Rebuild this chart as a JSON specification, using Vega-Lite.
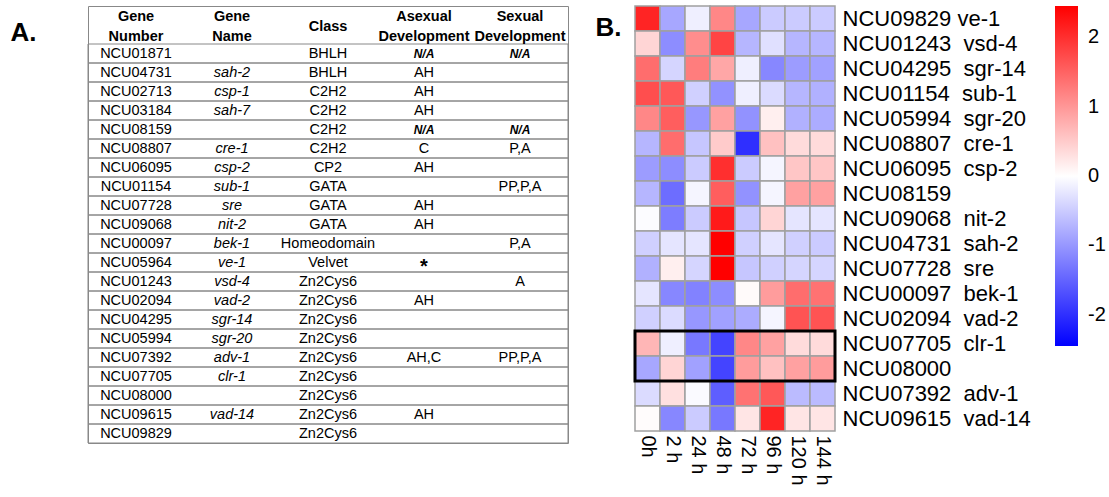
{
  "$schema": "https://vega.github.io/schema/vega-lite/v6.json",
  "padding": {"left": 10, "top": 5, "right": 0, "bottom": 0},
  "spacing": 26,
  "config": {
    "view": {"stroke": null},
    "font": "Liberation Sans",
    "text": {"font": "Liberation Sans", "color": "black"},
    "title": {"font": "Liberation Sans", "color": "black"},
    "axis": {"labelFont": "Liberation Sans", "labelColor": "black"},
    "legend": {"labelFont": "Liberation Sans", "labelColor": "black"}
  },
  "datasets": {
    "table": [
      {"num": "NCU01871", "name": "", "cls": "BHLH", "asex": "N/A", "sex": "N/A"},
      {"num": "NCU04731", "name": "sah-2", "cls": "BHLH", "asex": "AH", "sex": ""},
      {"num": "NCU02713", "name": "csp-1", "cls": "C2H2", "asex": "AH", "sex": ""},
      {"num": "NCU03184", "name": "sah-7", "cls": "C2H2", "asex": "AH", "sex": ""},
      {"num": "NCU08159", "name": "", "cls": "C2H2", "asex": "N/A", "sex": "N/A"},
      {"num": "NCU08807", "name": "cre-1", "cls": "C2H2", "asex": "C", "sex": "P,A"},
      {"num": "NCU06095", "name": "csp-2", "cls": "CP2", "asex": "AH", "sex": ""},
      {"num": "NCU01154", "name": "sub-1", "cls": "GATA", "asex": "", "sex": "PP,P,A"},
      {"num": "NCU07728", "name": "sre", "cls": "GATA", "asex": "AH", "sex": ""},
      {"num": "NCU09068", "name": "nit-2", "cls": "GATA", "asex": "AH", "sex": ""},
      {"num": "NCU00097", "name": "bek-1", "cls": "Homeodomain", "asex": "", "sex": "P,A"},
      {"num": "NCU05964", "name": "ve-1", "cls": "Velvet", "asex": "*", "sex": ""},
      {"num": "NCU01243", "name": "vsd-4", "cls": "Zn2Cys6", "asex": "", "sex": "A"},
      {"num": "NCU02094", "name": "vad-2", "cls": "Zn2Cys6", "asex": "AH", "sex": ""},
      {"num": "NCU04295", "name": "sgr-14", "cls": "Zn2Cys6", "asex": "", "sex": ""},
      {"num": "NCU05994", "name": "sgr-20", "cls": "Zn2Cys6", "asex": "", "sex": ""},
      {"num": "NCU07392", "name": "adv-1", "cls": "Zn2Cys6", "asex": "AH,C", "sex": "PP,P,A"},
      {"num": "NCU07705", "name": "clr-1", "cls": "Zn2Cys6", "asex": "", "sex": ""},
      {"num": "NCU08000", "name": "", "cls": "Zn2Cys6", "asex": "", "sex": ""},
      {"num": "NCU09615", "name": "vad-14", "cls": "Zn2Cys6", "asex": "AH", "sex": ""},
      {"num": "NCU09829", "name": "", "cls": "Zn2Cys6", "asex": "", "sex": ""}
    ],
    "header": [
      {"num": "h1", "key": "num", "t": "Gene\nNumber"},
      {"num": "h1", "key": "name", "t": "Gene\nName"},
      {"num": "h1", "key": "asex", "t": "Asexual\nDevelopment"},
      {"num": "h1", "key": "sex", "t": "Sexual\nDevelopment"}
    ],
    "heat": [
      {"g": "NCU09829 ve-1", "0h": 2.1, "2 h": -0.85, "24 h": -0.15, "48 h": 1.15, "72 h": -0.85, "96 h": -0.5, "120 h": -0.5, "144 h": -0.5},
      {"g": "NCU01243\u00a0 vsd-4", "0h": 0.4, "2 h": -1.1, "24 h": 1.1, "48 h": 1.8, "72 h": -0.7, "96 h": -0.3, "120 h": -0.7, "144 h": -0.7},
      {"g": "NCU04295\u00a0 sgr-14", "0h": 1.4, "2 h": -0.4, "24 h": 1.25, "48 h": 0.85, "72 h": -0.15, "96 h": -1.15, "120 h": -0.95, "144 h": -0.9},
      {"g": "NCU01154\u00a0 sub-1", "0h": 1.7, "2 h": 1.6, "24 h": -0.45, "48 h": -1.05, "72 h": -0.15, "96 h": -0.35, "120 h": -0.7, "144 h": -0.75},
      {"g": "NCU05994\u00a0 sgr-20", "0h": 1.15, "2 h": 1.55, "24 h": -1.0, "48 h": 0.9, "72 h": -1.05, "96 h": 0.15, "120 h": -0.75, "144 h": -0.8},
      {"g": "NCU08807\u00a0 cre-1", "0h": -0.7, "2 h": 1.4, "24 h": -0.55, "48 h": 0.5, "72 h": -2.0, "96 h": 0.6, "120 h": 0.35, "144 h": 0.35},
      {"g": "NCU06095\u00a0 csp-2", "0h": -0.95, "2 h": -1.1, "24 h": -0.5, "48 h": 2.0, "72 h": -0.5, "96 h": -0.1, "120 h": 0.55, "144 h": 0.55},
      {"g": "NCU08159", "0h": -0.7, "2 h": -1.4, "24 h": -0.1, "48 h": 1.55, "72 h": -1.05, "96 h": -0.1, "120 h": 0.9, "144 h": 0.9},
      {"g": "NCU09068\u00a0 nit-2", "0h": -0.03, "2 h": -1.25, "24 h": -0.5, "48 h": 2.2, "72 h": -0.55, "96 h": 0.4, "120 h": -0.25, "144 h": -0.25},
      {"g": "NCU04731\u00a0 sah-2", "0h": -0.45, "2 h": -0.25, "24 h": -0.25, "48 h": 2.45, "72 h": -0.45, "96 h": -0.25, "120 h": -0.45, "144 h": -0.5},
      {"g": "NCU07728\u00a0 sre", "0h": -0.75, "2 h": 0.15, "24 h": -0.4, "48 h": 2.45, "72 h": -0.55, "96 h": -0.45, "120 h": -0.4, "144 h": -0.4},
      {"g": "NCU00097\u00a0 bek-1", "0h": -0.25, "2 h": -1.15, "24 h": -1.2, "48 h": -1.1, "72 h": 0.05, "96 h": 0.95, "120 h": 1.4, "144 h": 1.35},
      {"g": "NCU02094\u00a0 vad-2", "0h": -0.45, "2 h": -0.35, "24 h": -1.0, "48 h": -0.9, "72 h": -0.8, "96 h": -0.1, "120 h": 1.65, "144 h": 1.65},
      {"g": "NCU07705\u00a0 clr-1", "0h": 0.7, "2 h": -0.15, "24 h": -1.3, "48 h": -1.8, "72 h": 1.15, "96 h": 0.9, "120 h": 0.35, "144 h": 0.35},
      {"g": "NCU08000", "0h": -0.85, "2 h": 0.4, "24 h": -0.9, "48 h": -1.8, "72 h": 0.95, "96 h": 0.6, "120 h": 0.9, "144 h": 0.95},
      {"g": "NCU07392\u00a0 adv-1", "0h": -0.35, "2 h": 0.3, "24 h": -0.05, "48 h": -1.55, "72 h": 1.35, "96 h": 1.6, "120 h": -0.65, "144 h": -0.65},
      {"g": "NCU09615\u00a0 vad-14", "0h": 0.03, "2 h": -1.15, "24 h": -0.5, "48 h": -1.3, "72 h": 0.25, "96 h": 2.1, "120 h": 0.25, "144 h": 0.25}
    ]
  },
  "hconcat": [
    {
      "width": 480,
      "height": 437,
      "view": {"stroke": "#888888", "strokeWidth": 1},
      "title": {"text": "A.", "orient": "left", "anchor": "end", "angle": 0, "align": "right", "baseline": "top", "offset": 25, "fontSize": 26, "fontWeight": "bold", "dy": 14},
      "encoding": {
        "y": {"field": "num", "type": "nominal", "axis": null,
          "scale": {"type": "band", "paddingInner": 0, "paddingOuter": 0,
            "domain": ["h1", "h2", "NCU01871", "NCU04731", "NCU02713", "NCU03184", "NCU08159", "NCU08807", "NCU06095", "NCU01154", "NCU07728", "NCU09068", "NCU00097", "NCU05964", "NCU01243", "NCU02094", "NCU04295", "NCU05994", "NCU07392", "NCU07705", "NCU08000", "NCU09615", "NCU09829"]}},
        "x": {"field": "key", "type": "nominal", "axis": null, "scale": {"type": "point", "padding": 0.5, "domain": ["num", "name", "cls", "asex", "sex"]}}
      },
      "layer": [
        {
          "data": {"name": "table"},
          "mark": {"type": "rect", "fillOpacity": 0, "stroke": "#888888", "strokeWidth": 1},
          "encoding": {"x": null}
        },
        {
          "data": {"name": "table"},
          "transform": [
            {"fold": ["num", "cls", "asex", "sex"], "as": ["key", "value"]},
            {"filter": "datum.value != 'N/A' && datum.value != '*'"}
          ],
          "mark": {"type": "text", "fontSize": 14.5, "baseline": "middle"},
          "encoding": {"text": {"field": "value"}}
        },
        {
          "data": {"name": "table"},
          "transform": [
            {"fold": ["name"], "as": ["key", "value"]}
          ],
          "mark": {"type": "text", "fontSize": 14.5, "fontStyle": "italic", "baseline": "middle"},
          "encoding": {"text": {"field": "value"}}
        },
        {
          "data": {"name": "table"},
          "transform": [
            {"fold": ["asex", "sex"], "as": ["key", "value"]},
            {"filter": "datum.value == 'N/A'"}
          ],
          "mark": {"type": "text", "fontSize": 12, "fontStyle": "italic", "fontWeight": "bold", "baseline": "middle"},
          "encoding": {"text": {"field": "value"}}
        },
        {
          "data": {"name": "table"},
          "transform": [
            {"fold": ["asex"], "as": ["key", "value"]},
            {"filter": "datum.value == '*'"}
          ],
          "mark": {"type": "text", "fontSize": 20, "fontWeight": "bold", "baseline": "middle", "dy": 4},
          "encoding": {"text": {"field": "value"}}
        },
        {
          "data": {"name": "header"},
          "mark": {"type": "text", "fontSize": 14.5, "fontWeight": "bold", "baseline": "middle", "lineBreak": "\n", "lineHeight": 19.5},
          "encoding": {
            "y": {"field": "num", "type": "nominal", "axis": null, "bandPosition": 0.6},
            "text": {"field": "t"}
          }
        },
        {
          "data": {"values": [{"num": "h2", "key": "cls", "t": "Class"}]},
          "mark": {"type": "text", "fontSize": 14.5, "fontWeight": "bold", "baseline": "middle"},
          "encoding": {
            "y": {"field": "num", "type": "nominal", "axis": null, "bandPosition": 0.1},
            "text": {"field": "t"}
          }
        }
      ]
    },
    {
      "width": 200,
      "height": 425,
      "title": {"text": "B.", "orient": "left", "anchor": "end", "angle": 0, "align": "right", "baseline": "top", "offset": -14, "fontSize": 26, "fontWeight": "bold", "dy": 10},
      "layer": [
        {
          "data": {"name": "heat"},
          "transform": [
            {"fold": ["0h", "2 h", "24 h", "48 h", "72 h", "96 h", "120 h", "144 h"], "as": ["t", "v"]}
          ],
          "mark": {"type": "rect", "stroke": "#a0a0a0", "strokeWidth": 1.5},
          "encoding": {
            "x": {"field": "t", "type": "nominal", "sort": ["0h", "2 h", "24 h", "48 h", "72 h", "96 h", "120 h", "144 h"],
              "axis": {"orient": "bottom", "title": null, "labelAngle": 90, "labelAlign": "left", "labelBaseline": "middle", "labelFontSize": 20, "ticks": false, "domain": false, "labelPadding": 4}},
            "y": {"field": "g", "type": "nominal",
              "scale": {"domain": ["NCU09829 ve-1", "NCU01243\u00a0 vsd-4", "NCU04295\u00a0 sgr-14", "NCU01154\u00a0 sub-1", "NCU05994\u00a0 sgr-20", "NCU08807\u00a0 cre-1", "NCU06095\u00a0 csp-2", "NCU08159", "NCU09068\u00a0 nit-2", "NCU04731\u00a0 sah-2", "NCU07728\u00a0 sre", "NCU00097\u00a0 bek-1", "NCU02094\u00a0 vad-2", "NCU07705\u00a0 clr-1", "NCU08000", "NCU07392\u00a0 adv-1", "NCU09615\u00a0 vad-14"]},
              "axis": {"orient": "right", "title": null, "labelFontSize": 22, "labelLimit": 400, "ticks": false, "domain": false, "labelPadding": 7}},
            "color": {"field": "v", "type": "quantitative",
              "scale": {"domain": [-2.45, 0, 2.45], "range": ["#0000ff", "#ffffff", "#ff0000"], "interpolate": "rgb"},
              "legend": {"title": null, "values": [-2, -1, 0, 1, 2], "labelExpr": "toString(datum.value)", "gradientLength": 340, "gradientThickness": 23, "labelFontSize": 20, "labelOffset": 10, "offset": 24, "gradientStrokeWidth": 0}}
          }
        },
        {
          "data": {"values": [{"a": "NCU07705\u00a0 clr-1", "b": "NCU08000"}]},
          "mark": {"type": "rect", "fillOpacity": 0, "stroke": "black", "strokeWidth": 3},
          "encoding": {
            "y": {"field": "a", "type": "nominal", "bandPosition": 0,
              "axis": {"orient": "right", "title": null, "labelFontSize": 22, "labelLimit": 400, "ticks": false, "domain": false, "labelPadding": 7}},
            "y2": {"field": "b", "bandPosition": 1}
          }
        }
      ]
    }
  ]
}
